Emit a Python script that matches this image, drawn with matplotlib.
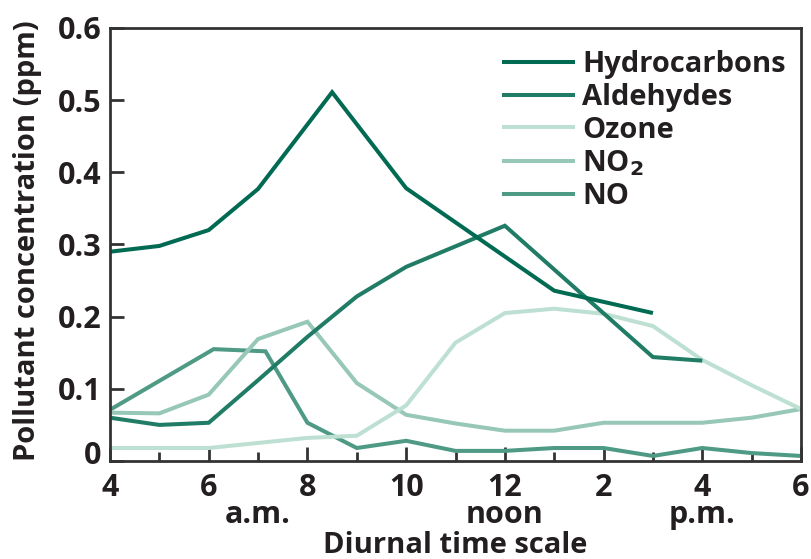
import matplotlib
matplotlib.use("Agg")
import matplotlib.pyplot as plt
import matplotlib.transforms as mtransforms

plt.rcParams['font.family'] = ['Open Sans', 'DejaVu Sans']
plt.rcParams['font.weight'] = 'bold'

TEXT = '#231f20'

# Hour of day (24 h clock) and concentrations in ppm
hc_hours = [4, 5, 6, 7, 8.5, 10, 13, 15]
hydrocarbons = [0.29, 0.298, 0.32, 0.377, 0.511, 0.378, 0.236, 0.205]

ald_hours = [4, 5, 6, 7, 8, 9, 10, 12, 15, 16]
aldehydes = [0.060, 0.050, 0.053, 0.112, 0.172, 0.228, 0.269, 0.326, 0.144, 0.139]

oz_hours = [4, 5, 6, 7, 8, 9, 10, 11, 12, 13, 14, 15, 16, 17, 18]
ozone = [0.018, 0.018, 0.018, 0.025, 0.032, 0.035, 0.077, 0.164, 0.205, 0.211,
         0.204, 0.187, 0.140, 0.105, 0.072]

no2_hours = [4, 5, 6, 7, 8, 9, 10, 11, 12, 13, 14, 15, 16, 17, 18]
no2 = [0.067, 0.066, 0.092, 0.169, 0.193, 0.108, 0.064, 0.052, 0.042, 0.042,
       0.053, 0.053, 0.053, 0.060, 0.072]

no_hours = [4, 6.1, 7.15, 8, 9, 10, 11, 12, 13, 14, 15, 16, 17, 18]
no = [0.071, 0.155, 0.152, 0.053, 0.018, 0.028, 0.014, 0.014, 0.018, 0.018,
      0.007, 0.018, 0.011, 0.007]

# clock labels on the even hours, with the time-of-day word set underneath
x_major = [4, 6, 8, 10, 12, 14, 16, 18]
x_major_labels = ['4', '6', '8', '10', '12\nnoon', '2', '4\np.m.', '6']
x_minor = [5, 7, 9, 11, 13, 15, 17]
x_minor_labels = ['', '\na.m.', '', '', '', '', '']

y_ticks = [0, 0.1, 0.2, 0.3, 0.4, 0.5, 0.6]
y_tick_labels = ['0', '0.1', '0.2', '0.3', '0.4', '0.5', '0.6']

series = [
    ('Hydrocarbons', hc_hours, hydrocarbons, '#006a52'),
    ('Aldehydes', ald_hours, aldehydes, '#207c65'),
    ('Ozone', oz_hours, ozone, '#bde0d3'),
    ('NO$_\\mathbf{2}$', no2_hours, no2, '#97c8b7'),
    ('NO', no_hours, no, '#4e9a85'),
]

W, H = 811, 559
fig = plt.figure(figsize=(W / 100, H / 100), dpi=100)
ax = fig.add_axes([110 / W, 1 - 461 / H, 691 / W, 433 / H])

# light lines first so the darker ones sit on top
for label, xs, ys, color in reversed(series):
    ax.plot(xs, ys, color=color, lw=2.9, label=label, solid_joinstyle='miter',
            solid_capstyle='butt')

ax.set_xlim(4, 18)
ax.set_ylim(0, 0.6)

ax.set_xticks(x_major, labels=x_major_labels)
ax.set_xticks(x_minor, labels=x_minor_labels, minor=True)
ax.set_yticks(y_ticks, labels=y_tick_labels)

ax.tick_params(axis='both', which='major', direction='in', length=10, width=2,
               color='#333333', labelsize=22, labelcolor=TEXT)
ax.tick_params(axis='x', which='minor', direction='in', length=6.5, width=2,
               color='#333333', labelsize=22, labelcolor=TEXT)
ax.tick_params(axis='x', which='both', pad=9)
ax.tick_params(axis='y', which='major', pad=6)

for lbl in (ax.get_xticklabels() + ax.get_xticklabels(minor=True)):
    lbl.set_fontweight('bold')
    lbl.set_linespacing(0.86)
for lbl in ax.get_yticklabels():
    lbl.set_fontweight('bold')

# the zero label sits a little above the baseline
zero = ax.get_yticklabels()[0]
zero.set_transform(zero.get_transform() +
                   mtransforms.ScaledTranslation(0, 8 / 100, fig.dpi_scale_trans))

for s in ax.spines.values():
    s.set_linewidth(2)
    s.set_color('#333333')

fig.text(455 / W, 1 - 553 / H, 'Diurnal time scale', ha='center', va='baseline',
         fontsize=21, fontweight='bold', color=TEXT)
fig.text(28 / W, 1 - 241 / H, 'Pollutant concentration (ppm)', rotation=90,
         ha='center', va='center', fontsize=21, fontweight='bold', color=TEXT)

handles, labels = ax.get_legend_handles_labels()
leg = ax.legend(handles[::-1], labels[::-1], loc='upper right',
                bbox_to_anchor=((786 - 110) / 691, (461 - 50) / 433),
                frameon=False, fontsize=21, handlelength=2.5,
                handletextpad=0.25, labelspacing=0.13, borderaxespad=0,
                borderpad=0)
for t in leg.get_texts():
    t.set_color(TEXT)
    t.set_fontweight('bold')

fig.savefig('out.png', dpi=100)
